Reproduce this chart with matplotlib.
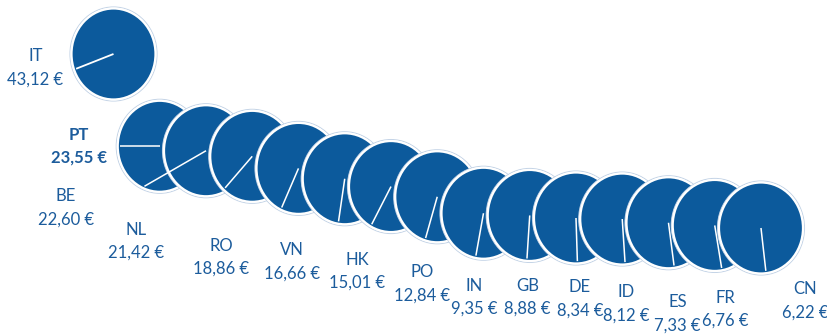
import numpy as np
import matplotlib.pyplot as plt
from matplotlib.patches import Ellipse

# Prix moyen par pays d'origine
countries = ['IT', 'PT', 'BE', 'NL', 'RO', 'VN', 'HK', 'PO', 'IN', 'GB', 'DE', 'ID', 'ES', 'FR', 'CN']
prices = [43.12, 23.55, 22.60, 21.42, 18.86, 16.66, 15.01, 12.84, 9.35, 8.88, 8.34, 8.12, 7.33, 6.76, 6.22]

# direction of the white spoke in each disc (degrees) and how far it reaches
spoke_angle = [200, 180, 208, 227, 245, 261, 241, 253, 259, 266, 272, 274, 278, 280, 277]
spoke_reach = [0.97, 0.97, 1.7, 0.97, 0.97, 0.97, 0.97, 0.97, 0.97, 0.97, 0.97, 0.97, 0.97, 0.97, 0.97]

# label offsets from the disc centre, in pixels (right, down)
label_dx = [-78, -81, -140, -116, -77, -53, -34, -15, -9, -2, 4, 4, 9, 11, 44]
label_dy = [14, 0, 57, 85, 89, 83, 85, 87, 84, 82, 81, 85, 91, 84, 73]

BLUE = '#0C5A9C'
TEXT = '#1C5C9C'
RING = '#C3D3E6'

W, H = 828, 334
fig = plt.figure(figsize=(W / 100, H / 100), dpi=100)
ax = fig.add_axes([0, 0, 1, 1])
ax.set_xlim(-2.454, 15.449)
ax.set_ylim(-16.26, 54.57)
ax.axis('off')

# pixels per data unit
sx = W / (15.449 + 2.454)
sy = H / (54.57 + 16.26)

disc_w, disc_h = 84.0, 91.0

for i, (c, p) in enumerate(zip(countries, prices)):
    z = 2 + 3 * i
    ax.add_patch(Ellipse((i, p), (disc_w + 3) / sx, (disc_h + 3) / sy,
                         facecolor='white', edgecolor=RING, lw=0.8, zorder=z))
    ax.add_patch(Ellipse((i, p), disc_w / sx, disc_h / sy,
                         facecolor=BLUE, edgecolor='white', lw=1.6, zorder=z + 1))
    a = np.radians(spoke_angle[i])
    k = spoke_reach[i]
    ex = i + k * (disc_w / 2 - 1) * np.cos(a) / sx
    ey = p + k * (disc_h / 2 - 1) * np.sin(a) / sy
    ax.plot([i, ex], [p, ey], color='white', lw=1.3 if i == 0 else 1.1,
            solid_capstyle='butt', zorder=z + 2)

    label = f"{c}\n{p:.2f} €".replace('.', ',')
    ax.annotate(label, xy=(i, p), xytext=(label_dx[i] * 0.72, -label_dy[i] * 0.72),
                textcoords='offset points', ha='center', va='center',
                multialignment='center', linespacing=1.55,
                fontsize=12, family=['Lato', 'DejaVu Sans'], color=TEXT,
                fontweight='bold' if c == 'PT' else 'normal', zorder=100)

fig.savefig('out.png', dpi=100)
